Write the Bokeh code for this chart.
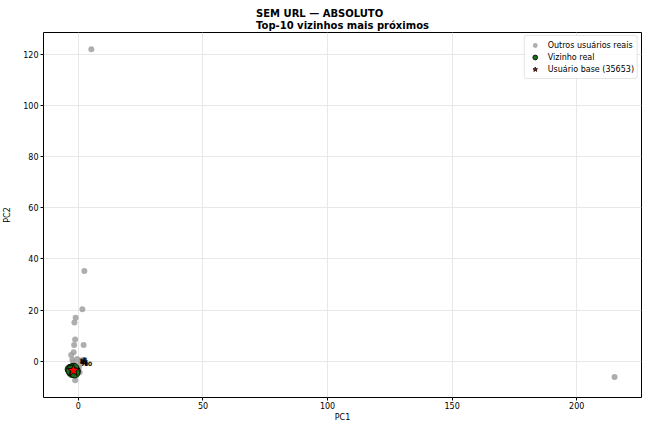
from bokeh.plotting import figure
from bokeh.models import FixedTicker, Range1d, Legend, LegendItem
from bokeh.embed import file_html
from bokeh.resources import INLINE
from bokeh.core.properties import value

# data
others_x = [5.2, 215.2, 2.4, 1.6, -1.1, -1.6, -1.3, 2.1, -1.7, -1.9, -2.9, -2.4, -0.5, -1.3, 0.5, -1.0, 0.2, -2.0, 1.0, -0.3, 0.8]
others_y = [122.0, -6.2, 35.3, 20.3, 17.0, 15.1, 8.5, 6.3, 6.3, 3.5, 2.4, 0.6, 0.9, -7.5, -4.3, -1.5, -2.5, -0.5, 0.3, -3.0, -1.0]
neigh_x = [-3.3, -2.8, -2.4, -2.0, -1.6, -1.2, -2.6, -1.8, -3.0, -1.4]
neigh_y = [-3.2, -3.8, -2.9, -4.2, -3.5, -3.9, -4.4, -2.8, -3.6, -4.6]
neigh_labels = ["1", "2", "3", "4", "5", "6", "7", "8", "9", "10"]
base_x = [-2.0]
base_y = [-3.6]
x_ticks = [0, 50, 100, 150, 200]
y_ticks = [0, 20, 40, 60, 80, 100, 120]

FONT = "DejaVu Sans"

p = figure(width=642, height=424, output_backend="svg", toolbar_location=None,
           x_range=Range1d(-14, 226), y_range=Range1d(-14.2, 128.5),
           min_border_left=42, min_border_right=1, min_border_top=32, min_border_bottom=22)

p.title.text = "SEM URL — ABSOLUTO\nTop-10 vizinhos mais próximos"
p.title.align = "center"
p.title.text_font = FONT
p.title.text_font_size = "10px"
p.title.text_font_style = "bold"
p.title.text_color = "black"
p.title.text_line_height = 1.1
p.title.standoff = 3

p.outline_line_color = "black"
p.outline_line_width = 1
p.background_fill_color = "white"

for ax in (p.xaxis, p.yaxis):
    ax.axis_line_color = None
    ax.major_tick_line_color = "black"
    ax.minor_tick_line_color = None
    ax.major_tick_out = 3
    ax.major_tick_in = 0
    ax.major_label_text_font = FONT
    ax.major_label_text_font_size = "8px"
    ax.major_label_text_color = "black"
    ax.axis_label_text_font = FONT
    ax.axis_label_text_font_size = "8px"
    ax.axis_label_text_font_style = "normal"
    ax.axis_label_text_color = "black"
    ax.major_label_standoff = 2
    ax.axis_label_standoff = 3

p.xaxis.axis_label = "PC1"
p.yaxis.axis_label = "PC2"
p.xaxis.major_label_standoff = 1
p.xaxis.axis_label_standoff = 1
p.yaxis.axis_label_standoff = 8
p.xaxis.ticker = FixedTicker(ticks=x_ticks)
p.yaxis.ticker = FixedTicker(ticks=y_ticks)
p.yaxis.major_label_orientation = "horizontal"

p.xgrid.ticker = FixedTicker(ticks=x_ticks)
p.ygrid.ticker = FixedTicker(ticks=y_ticks)
p.grid.grid_line_color = "#e8e8e8"
p.grid.grid_line_width = 1

r_others = p.scatter(others_x, others_y, size=6, color="#a0a0a0", alpha=0.85, line_color=None)
r_neigh = p.scatter(neigh_x, neigh_y, size=10, fill_color="#1a6e1a", line_color="black", line_width=0.8)
p.text(neigh_x, neigh_y, text=neigh_labels, x_offset=9, y_offset=-9,
       text_font=value(FONT), text_font_size="6px", text_font_style="bold",
       text_color="black", text_baseline="middle")
r_base = p.scatter(base_x, base_y, marker="star", size=13, fill_color="red", line_color="black", line_width=0.8)

legend = Legend(items=[
    LegendItem(label="Outros usuários reais", renderers=[r_others]),
    LegendItem(label="Vizinho real", renderers=[r_neigh]),
    LegendItem(label="Usuário base (35653)", renderers=[r_base]),
], location="top_right")
legend.label_text_font = FONT
legend.label_text_font_size = "8px"
legend.label_text_color = "black"
legend.label_height = 11
legend.glyph_height = 12
legend.glyph_width = 14
legend.spacing = 0
legend.padding = 3
legend.margin = 3
legend.label_standoff = 6
legend.border_line_color = "#cccccc"
legend.border_radius = 3
legend.background_fill_alpha = 0.8
p.add_layout(legend)

open("out.html", "w").write(file_html(p, INLINE))
